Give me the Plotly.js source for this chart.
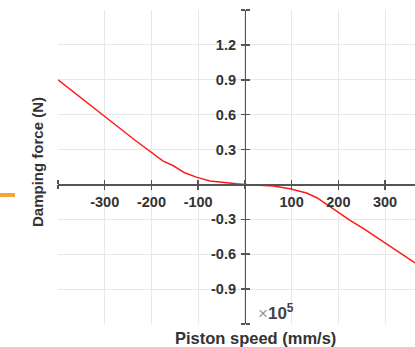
<!DOCTYPE html>
<html>
<head>
<meta charset="utf-8">
<script src="https://cdn.plot.ly/plotly-3.0.1.min.js"></script>
<style>html,body{margin:0;padding:0;background:#fff;overflow:hidden}#chart{width:415px;height:347px}</style>
</head>
<body>
<div id="chart"></div>
<script>
// Piston speed (mm/s)
const speed = [-400, -300, -235, -175, -154, -129, -104, -75, -46, -18, 0, 32, 61, 96, 132, 154, 182, 204, 225, 254, 300, 364];
// Damping force (x10^5 N)
const force = [0.90, 0.585, 0.38, 0.20, 0.163, 0.10, 0.063, 0.029, 0.014, 0.005, 0, -0.006, -0.014, -0.037, -0.074, -0.114, -0.194, -0.251, -0.309, -0.38, -0.505, -0.675];

// labelled ticks
const xTickVals = [-300, -200, -100, 100, 200, 300];
const xTickText = ['-300', '-200', '-100', '100', '200', '300'];
const yTickVals = [-0.9, -0.6, -0.3, 0.3, 0.6, 0.9, 1.2];
const yTickText = ['-0.9', '-0.6', '-0.3', '0.3', '0.6', '0.9', '1.2'];
// all tick / grid positions
const xAllTicks = [-400, -300, -200, -100, 0, 100, 200, 300];
const yAllTicks = [-1.2, -0.9, -0.6, -0.3, 0, 0.3, 0.6, 0.9, 1.2, 1.5];

const xRange = [-400, 364];
const yRange = [-1.2, 1.5];
const yAxisPos = (0 - xRange[0]) / (xRange[1] - xRange[0]);
const xAxisPos = (0 - yRange[0]) / (yRange[1] - yRange[0]);

const fam = 'Liberation Sans, Arial, sans-serif';
const tickFont = {family: fam, size: 14.5, color: '#333', weight: 'bold'};
const axColor = '#555';
const gridColor = '#e8e8e8';

const data = [
  {x: speed, y: force, type: 'scatter', mode: 'lines',
   line: {color: '#ff1a1a', width: 1.5}, showlegend: false, hoverinfo: 'skip'},
  // empty traces so the tick-only overlay axes are drawn
  {x: [], y: [], xaxis: 'x2', yaxis: 'y2', type: 'scatter', mode: 'lines', showlegend: false, hoverinfo: 'skip'},
  {x: [], y: [], xaxis: 'x3', yaxis: 'y3', type: 'scatter', mode: 'lines', showlegend: false, hoverinfo: 'skip'}
];

const tickOnly = {ticks: 'outside', ticklen: 4, tickwidth: 1.5, tickcolor: axColor,
                  showline: false, zeroline: false, showticklabels: false};

const layout = {
  width: 415, height: 347,
  margin: {l: 58, r: 0, t: 10, b: 23},
  paper_bgcolor: '#fff', plot_bgcolor: '#fff',
  showlegend: false,
  xaxis: {
    range: xRange, anchor: 'free', position: xAxisPos,
    tickvals: xTickVals, ticktext: xTickText, ticks: 'outside', ticklen: 4, tickwidth: 1.5, tickcolor: axColor,
    showline: true, linecolor: axColor, linewidth: 1.5, tickfont: tickFont,
    showgrid: false, zeroline: false
  },
  yaxis: {
    range: yRange, anchor: 'free', position: yAxisPos, side: 'left',
    tickvals: yTickVals, ticktext: yTickText, ticks: 'outside', ticklen: 4, tickwidth: 1.5, tickcolor: axColor,
    showline: true, linecolor: axColor, linewidth: 1.5, tickfont: tickFont, ticklabelstandoff: 2,
    showgrid: false, zeroline: false
  },
  // opposite-side ticks + grid
  xaxis2: Object.assign({range: xRange, overlaying: 'x', anchor: 'free', position: xAxisPos, side: 'top',
    tickvals: xAllTicks, showgrid: true, gridcolor: gridColor, gridwidth: 1}, tickOnly),
  yaxis2: Object.assign({range: yRange, overlaying: 'y', anchor: 'free', position: yAxisPos, side: 'right',
    tickvals: yAllTicks, showgrid: true, gridcolor: gridColor, gridwidth: 1}, tickOnly),
  // unlabelled same-side ticks at the ends and origin
  xaxis3: Object.assign({range: xRange, overlaying: 'x', anchor: 'free', position: xAxisPos, side: 'bottom',
    tickvals: [-400, 0], showgrid: false}, tickOnly),
  yaxis3: Object.assign({range: yRange, overlaying: 'y', anchor: 'free', position: yAxisPos, side: 'left',
    tickvals: [-1.2, 0, 1.5], showgrid: false}, tickOnly),
  shapes: [{
    type: 'line', xref: 'paper', yref: 'paper',
    x0: -58/357, x1: -43/357, y0: 129/314, y1: 129/314,
    line: {color: '#f5a33c', width: 4}
  }],
  annotations: [
    {xref: 'paper', yref: 'paper', x: 198/357, y: 12/314, xanchor: 'left', yanchor: 'middle',
     text: '<span style="color:#999;font-weight:normal">×</span><b>10<sup>5</sup></b>',
     showarrow: false, font: {family: fam, size: 17, color: '#444'}},
    {xref: 'paper', yref: 'paper', x: 197/357, y: -14/314, xanchor: 'center', yanchor: 'middle',
     text: '<b>Piston speed (mm/s)</b>', showarrow: false, font: {family: fam, size: 16.5, color: '#333'}},
    {xref: 'paper', yref: 'paper', x: -21/357, y: 162/314, xanchor: 'center', yanchor: 'middle', textangle: -90,
     text: '<b>Damping force (N)</b>', showarrow: false, font: {family: fam, size: 15, color: '#333'}}
  ]
};

Plotly.newPlot('chart', data, layout, {displayModeBar: false, staticPlot: true});
</script>
</body>
</html>
